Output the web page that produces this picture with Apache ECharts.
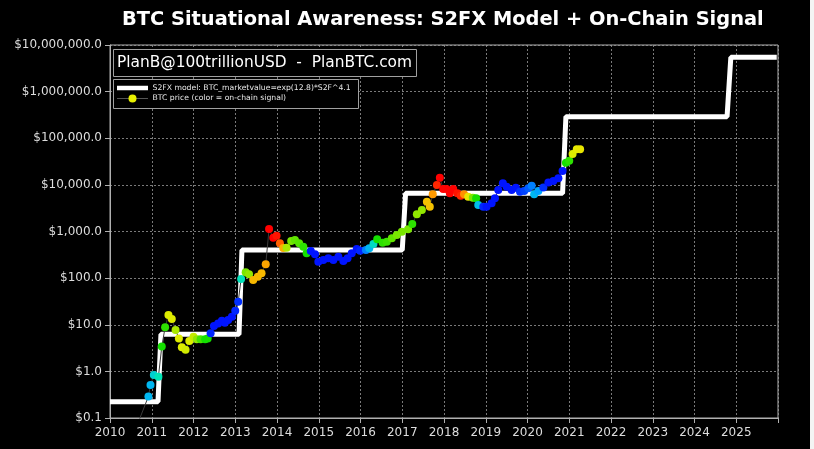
<!DOCTYPE html>
<html>
<head>
<meta charset="utf-8">
<script src="https://cdn.jsdelivr.net/npm/echarts@6/dist/echarts.min.js"></script>
<style>
html,body{margin:0;padding:0;background:#000;}
#chart{width:814px;height:449px;}
</style>
</head>
<body>
<div id="chart"></div>
<script>
// ---- Data ----
var titleText = 'BTC Situational Awareness: S2FX Model + On-Chain Signal';
var yearTicks = [2010, 2011, 2012, 2013, 2014, 2015, 2016, 2017, 2018, 2019, 2020, 2021, 2022, 2023, 2024, 2025];

// S2FX model (step function)
var modelYears = [2010.0, 2011.15, 2011.22, 2013.09, 2013.16, 2017.0, 2017.08, 2020.84, 2020.92, 2024.78, 2024.87, 2025.97];
var modelValues = [0.224, 0.224, 6.24, 6.24, 401, 401, 6590, 6590, 290000, 290000, 5450000, 5450000];

// BTC price (monthly) with on-chain signal (0 = blue ... 1 = red)
var priceYears = [2010.62, 2010.92, 2010.97, 2011.05, 2011.16, 2011.24, 2011.32, 2011.40, 2011.48, 2011.57,
  2011.65, 2011.72, 2011.81, 2011.90, 2012.00, 2012.08, 2012.17, 2012.28, 2012.34, 2012.41,
  2012.49, 2012.59, 2012.68, 2012.75, 2012.83, 2012.92, 2013.00, 2013.07, 2013.14, 2013.25,
  2013.33, 2013.43, 2013.54, 2013.63, 2013.73, 2013.81, 2013.91, 2013.99, 2014.07, 2014.15,
  2014.23, 2014.34, 2014.43, 2014.53, 2014.63, 2014.71, 2014.81, 2014.91, 2014.99, 2015.11,
  2015.23, 2015.35, 2015.47, 2015.59, 2015.69, 2015.79, 2015.91, 2015.99, 2016.13, 2016.21,
  2016.31, 2016.40, 2016.53, 2016.63, 2016.75, 2016.87, 2016.99, 2017.14, 2017.24, 2017.35,
  2017.47, 2017.59, 2017.66, 2017.73, 2017.83, 2017.90, 2017.98, 2018.06, 2018.14, 2018.22,
  2018.32, 2018.40, 2018.48, 2018.58, 2018.69, 2018.77, 2018.82, 2018.94, 2019.02, 2019.14,
  2019.22, 2019.30, 2019.41, 2019.50, 2019.62, 2019.72, 2019.82, 2019.92, 2020.02, 2020.10,
  2020.16, 2020.26, 2020.38, 2020.50, 2020.62, 2020.74, 2020.84, 2020.92, 2021.00, 2021.08,
  2021.18, 2021.26];
var priceValues = [0.06, 0.29, 0.51, 0.84, 0.77, 3.4, 8.8, 16.2, 13.3, 7.7,
  5.1, 3.3, 2.9, 4.5, 5.5, 4.9, 4.9, 4.9, 5.1, 6.6,
  9.4, 10.7, 12.2, 11.1, 12.6, 14.9, 20, 31, 96, 133,
  121, 91, 107, 127, 198, 1130, 736, 813, 558, 440,
  449, 625, 658, 558, 472, 340, 382, 324, 225, 245,
  266, 245, 288, 233, 266, 340, 422, 387, 401, 436,
  540, 681, 575, 604, 714, 841, 991, 1114, 1449, 2340,
  2890, 4360, 3400, 6280, 9930, 14260, 8160, 8160, 6590, 8160,
  6590, 5860, 6280, 5570, 5310, 5150, 3700, 3400, 3400, 4030,
  5150, 7760, 10800, 9140, 7760, 8690, 7140, 7390, 8450, 9600,
  6280, 7390, 8800, 11300, 12100, 13800, 19850, 29900, 33000, 45900,
  58000, 58000];
var signalValues = [0.2, 0.2, 0.2, 0.27, 0.33, 0.5, 0.52, 0.66, 0.66, 0.62,
  0.66, 0.66, 0.65, 0.66, 0.64, 0.6, 0.54, 0.5, 0.5, 0.02,
  0, 0, 0, 0, 0, 0, 0.02, 0.03, 0.32, 0.58,
  0.6, 0.78, 0.78, 0.78, 0.82, 1, 1, 0.98, 0.9, 0.8,
  0.62, 0.58, 0.56, 0.55, 0.52, 0.5, 0, 0, 0, 0,
  0, 0, 0, 0, 0, 0, 0, 0.02, 0.12, 0.2,
  0.3, 0.5, 0.52, 0.53, 0.56, 0.58, 0.58, 0.58, 0.52, 0.6,
  0.6, 0.76, 0.76, 0.84, 0.96, 1, 1, 1, 1, 1,
  0.98, 0.96, 0.85, 0.68, 0.58, 0.5, 0.22, 0.02, 0, 0,
  0, 0, 0, 0, 0, 0, 0.03, 0.05, 0.08, 0.12,
  0.2, 0.16, 0.03, 0, 0, 0, 0, 0.5, 0.52, 0.66,
  0.67, 0.68];

var signalColors = ['#0014ff', '#00aaff', '#00e6b4', '#14e000', '#e6ec00', '#ffa000', '#ff0000'];

// ---- Build ----
var modelData = modelYears.map(function (y, i) { return [y, modelValues[i]]; });
var priceData = priceYears.map(function (y, i) { return [y, priceValues[i], signalValues[i]]; });

function fmtDollar(v) {
  var s = Number(v).toFixed(1);
  var parts = s.split('.');
  parts[0] = parts[0].replace(/\B(?=(\d{3})+(?!\d))/g, ',');
  return '$' + parts[0] + '.' + parts[1];
}

var FONT = 'DejaVu Sans';
var chart = echarts.init(document.getElementById('chart'), null, {renderer: 'canvas'});
chart.setOption({
  backgroundColor: '#000',
  animation: false,
  grid: {left: 110, right: 36, top: 45, bottom: 31, show: true, borderColor: '#b0b0b0', borderWidth: 1, backgroundColor: 'transparent'},
  xAxis: {
    type: 'value', min: 2010, max: 2026, interval: 1,
    axisLine: {show: true, lineStyle: {color: '#b0b0b0'}},
    axisTick: {show: true, length: 5, lineStyle: {color: '#b0b0b0'}},
    axisLabel: {color: '#dddddd', fontSize: 12, fontFamily: FONT, margin: 9,
      formatter: function (v) { return yearTicks.indexOf(Math.round(v)) >= 0 ? String(Math.round(v)) : ''; }},
    splitLine: {show: true, lineStyle: {color: '#9a9a9a', type: [2, 2], width: 0.8}}
  },
  yAxis: {
    type: 'log', logBase: 10, min: 0.1, max: 10000000,
    axisLine: {show: true, lineStyle: {color: '#b0b0b0'}},
    axisTick: {show: true, length: 5, lineStyle: {color: '#b0b0b0'}},
    axisLabel: {color: '#dddddd', fontSize: 12, fontFamily: FONT, margin: 8, formatter: fmtDollar},
    splitLine: {show: true, lineStyle: {color: '#9a9a9a', type: [2, 2], width: 0.8}},
    minorTick: {show: false}
  },
  visualMap: {
    show: false, type: 'continuous', seriesIndex: 2, dimension: 2, min: 0, max: 1,
    inRange: {color: signalColors}
  },
  series: [
    {type: 'line', data: modelData, symbol: 'none', z: 2,
      lineStyle: {color: '#ffffff', width: 5}},
    {type: 'line', data: priceData, symbol: 'none', z: 3,
      lineStyle: {color: '#3a3a3a', width: 1}},
    {type: 'scatter', data: priceData, symbol: 'circle', symbolSize: 8, z: 4,
      itemStyle: {opacity: 1}}
  ],
  graphic: [
    {type: 'text', z: 10, left: 122, top: 10, style: {text: titleText, fill: '#fff', font: 'bold 19.4px "DejaVu Sans"'}},
    {type: 'rect', z: 10, shape: {x: 113.5, y: 49.5, width: 303, height: 27}, style: {fill: '#000', stroke: '#a0a0a0', lineWidth: 1}},
    {type: 'text', z: 11, style: {text: 'PlanB@100trillionUSD  -  PlanBTC.com', x: 117, y: 63, textVerticalAlign: 'middle', fill: '#fff', font: '15.4px "DejaVu Sans"'}},
    {type: 'rect', z: 10, shape: {x: 113.5, y: 79.5, width: 245, height: 29}, style: {fill: '#000', stroke: '#a0a0a0', lineWidth: 1}},
    {type: 'line', z: 11, shape: {x1: 117, y1: 88, x2: 148, y2: 88}, style: {stroke: '#fff', lineWidth: 4.5}},
    {type: 'text', z: 11, style: {text: 'S2FX model: BTC_marketvalue=exp(12.8)*S2F^4.1', x: 152.5, y: 88, textVerticalAlign: 'middle', fill: '#e8e8e8', font: '7.7px "DejaVu Sans"'}},
    {type: 'line', z: 11, shape: {x1: 117, y1: 98.5, x2: 148, y2: 98.5}, style: {stroke: '#555', lineWidth: 1}},
    {type: 'circle', z: 12, shape: {cx: 132.5, cy: 98.5, r: 4}, style: {fill: '#e8f000'}},
    {type: 'text', z: 11, style: {text: 'BTC price (color = on-chain signal)', x: 152.5, y: 98.5, textVerticalAlign: 'middle', fill: '#e8e8e8', font: '7.7px "DejaVu Sans"'}},
    {type: 'rect', z: 20, shape: {x: 810, y: 0, width: 4, height: 449}, style: {fill: '#f4f4f4'}}
  ]
});
</script>
</body>
</html>
